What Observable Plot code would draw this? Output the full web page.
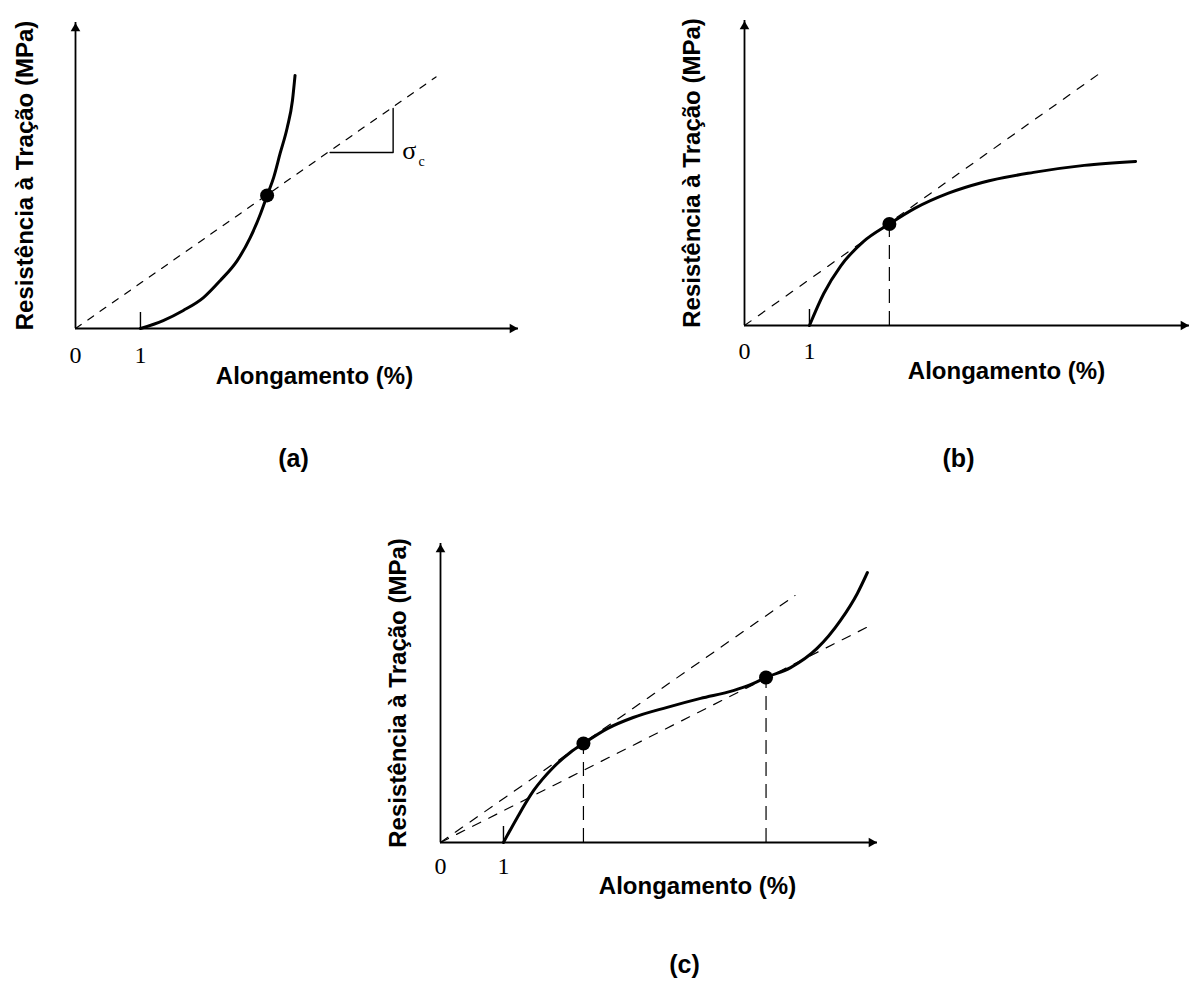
<!DOCTYPE html>
<html><head><meta charset="utf-8">
<script src="https://cdn.jsdelivr.net/npm/d3@7"></script>
<script src="https://cdn.jsdelivr.net/npm/@observablehq/plot@0.6"></script>
<style>
html,body{margin:0;padding:0;background:#fff;}
#fig{position:relative;width:1190px;height:984px;overflow:hidden;background:#fff;color:#000;}
.panel{position:absolute;}
.panel svg{overflow:visible;background:transparent;}
</style></head><body><div id="fig"></div>
<script>
// ---- text ----
const xLabel = "Alongamento (%)";
const yLabel = "Resistência à Tração (MPa)";
const tickLabels = [0, 1];
const tickMarks = [1];
const panelTags = ["(a)", "(b)", "(c)"];
const sigmaText = ["σ"];
const sigmaSub = ["c"];

// ---- panel (a) ----
const xDomainA = [0, 6.82];
const yDomainA = [0, 10];
const curveA = [
  {x: 1.0, y: 0}, {x: 1.35, y: 0.26}, {x: 1.66, y: 0.59}, {x: 1.97, y: 1.01},
  {x: 2.23, y: 1.57}, {x: 2.49, y: 2.22}, {x: 2.69, y: 2.97}, {x: 2.85, y: 3.76},
  {x: 2.95, y: 4.35}, {x: 3.05, y: 4.93}, {x: 3.15, y: 5.72}, {x: 3.26, y: 6.57},
  {x: 3.34, y: 7.45}, {x: 3.38, y: 8.27}
];
const tangentA = [{x: 0, y: 0}, {x: 5.55, y: 8.22}];
const dotsA = [{x: 2.95, y: 4.35}];
const slopeA = [{x: 3.92, y: 5.75}, {x: 4.89, y: 5.75}, {x: 4.89, y: 7.19}];
const sigmaPosA = [{x: 5.14, y: 5.82}];
const sigmaSubPosA = [{x: 5.33, y: 5.45}];

// ---- panel (b) ----
const xDomainB = [0, 6.85];
const yDomainB = [0, 10];
const curveB = [
  {x: 1.0, y: 0}, {x: 1.22, y: 1.05}, {x: 1.48, y: 1.95}, {x: 1.83, y: 2.75},
  {x: 2.23, y: 3.33}, {x: 2.62, y: 3.84}, {x: 3.14, y: 4.34}, {x: 3.66, y: 4.69},
  {x: 4.45, y: 5.02}, {x: 5.23, y: 5.25}, {x: 6.02, y: 5.38}
];
const tangentB = [{x: 0, y: 0}, {x: 5.49, y: 8.30}];
const dotsB = [{x: 2.23, y: 3.33}];

// ---- panel (c) ----
const xDomainC = [0, 6.94];
const yDomainC = [0, 10];
const curveC = [
  {x: 1.0, y: 0}, {x: 1.22, y: 0.84}, {x: 1.48, y: 1.74}, {x: 1.79, y: 2.51},
  {x: 2.06, y: 3.01}, {x: 2.27, y: 3.31}, {x: 2.65, y: 3.81}, {x: 3.06, y: 4.18},
  {x: 3.60, y: 4.52}, {x: 4.13, y: 4.82}, {x: 4.65, y: 5.08}, {x: 4.97, y: 5.32},
  {x: 5.17, y: 5.52}, {x: 5.56, y: 5.85}, {x: 5.98, y: 6.49}, {x: 6.35, y: 7.42},
  {x: 6.62, y: 8.33}, {x: 6.78, y: 9.03}
];
const tangentC1 = [{x: 0, y: 0}, {x: 5.63, y: 8.26}];
const tangentC2 = [{x: 0, y: 0}, {x: 6.83, y: 7.26}];
const dotsC = [{x: 2.27, y: 3.31}, {x: 5.17, y: 5.52}];

const SANS = "Liberation Sans, Arial, Helvetica, sans-serif";
const SERIF = "Liberation Serif, Times New Roman, serif";

function panel(o) {
  const frameH = o.height - o.mT - o.mB;
  const marks = [
    // axes
    Plot.ruleY([0], {stroke: "#000", strokeWidth: 1.8}),
    Plot.ruleX([0], {stroke: "#000", strokeWidth: 1.8}),
    Plot.dot([{x: o.xDomain[1], y: 0}], {x: "x", y: "y", symbol: "triangle2", rotate: 90, r: 4.6, fill: "#000", dx: -6}),
    Plot.dot([{x: 0, y: o.yDomain[1]}], {x: "x", y: "y", symbol: "triangle2", r: 4.6, fill: "#000", dy: 6}),
    Plot.tickX(tickMarks, {x: d => d, insetTop: frameH - 16, stroke: "#000", strokeWidth: 1.4}),
    Plot.text(tickLabels, {x: d => d, text: d => String(d), frameAnchor: "bottom", lineAnchor: "bottom", dy: o.tickDy, fontFamily: SERIF, fontSize: 24, fill: "#000"}),
    // tangent (dashed) lines
    ...o.tangents.map(t => Plot.line(t, {x: "x", y: "y", stroke: "#000", strokeWidth: 1.2, strokeDasharray: o.dash})),
    // drop lines
    ...(o.drops ? [Plot.ruleX(o.drops, {x: "x", y1: 0, y2: "y", stroke: "#000", strokeWidth: 1.2, strokeDasharray: "14,8"})] : []),
    // curve
    Plot.line(o.curve, {x: "x", y: "y", curve: "monotone-x", stroke: "#000", strokeWidth: 3}),
    Plot.dot(o.dots, {x: "x", y: "y", r: 7, fill: "#000"}),
    ...(o.extra || []),
    // labels
    Plot.text([yLabel], {text: d => d, frameAnchor: "left", textAnchor: "middle", lineAnchor: "middle", rotate: -90, dx: o.yLabelDx, fontFamily: SANS, fontWeight: "bold", fontSize: 24, fill: "#000"}),
    Plot.text([xLabel], {text: d => d, frameAnchor: "bottom-left", textAnchor: "middle", lineAnchor: "bottom", dx: o.xLabelDx, dy: o.xLabelDy, fontFamily: SANS, fontWeight: "bold", fontSize: 24, fill: "#000"}),
    Plot.text([o.tag], {text: d => d, frameAnchor: "bottom-left", textAnchor: "middle", lineAnchor: "bottom", dx: o.tagDx, dy: o.tagDy, fontFamily: SANS, fontWeight: "bold", fontSize: 25, fill: "#000"})
  ];
  const chart = Plot.plot({
    width: o.width, height: o.height,
    marginLeft: o.mL, marginRight: o.mR, marginTop: o.mT, marginBottom: o.mB,
    x: {domain: o.xDomain, axis: null},
    y: {domain: o.yDomain, axis: null},
    style: {background: "transparent", color: "#000", overflow: "visible"},
    marks
  });
  const div = document.createElement("div");
  div.className = "panel";
  div.style.left = o.left + "px";
  div.style.top = o.top + "px";
  div.appendChild(chart);
  document.getElementById("fig").appendChild(div);
}

panel({
  left: 0, top: 0, width: 560, height: 490, mL: 75, mR: 42, mT: 22, mB: 162,
  xDomain: xDomainA, yDomain: yDomainA, curve: curveA, tangents: [tangentA], dots: dotsA,
  dash: "7,8", tag: panelTags[0], tickDy: 34,
  yLabelDx: -50, xLabelDx: 239, xLabelDy: 55, tagDx: 218, tagDy: 138,
  extra: [
    Plot.line(slopeA, {x: "x", y: "y", stroke: "#000", strokeWidth: 1.4}),
    Plot.text(sigmaPosA, {x: "x", y: "y", text: () => sigmaText[0], fontFamily: SERIF, fontSize: 26, fill: "#000"}),
    Plot.text(sigmaSubPosA, {x: "x", y: "y", text: () => sigmaSub[0], fontFamily: SERIF, fontSize: 14, fill: "#000"})
  ]
});

panel({
  left: 640, top: 0, width: 550, height: 490, mL: 104, mR: 1, mT: 20, mB: 165,
  xDomain: xDomainB, yDomain: yDomainB, curve: curveB, tangents: [tangentB], dots: dotsB,
  drops: dotsB, dash: "8,9", tag: panelTags[1], tickDy: 33,
  yLabelDx: -52, xLabelDx: 262, xLabelDy: 53, tagDx: 214, tagDy: 141
});

panel({
  left: 350, top: 500, width: 560, height: 484, mL: 90, mR: 33, mT: 43, mB: 142,
  xDomain: xDomainC, yDomain: yDomainC, curve: curveC, tangents: [tangentC1, tangentC2], dots: dotsC,
  drops: dotsC, dash: "9,9", tag: panelTags[2], tickDy: 31,
  yLabelDx: -42, xLabelDx: 257, xLabelDy: 51, tagDx: 244, tagDy: 130
});
</script>
</body></html>
